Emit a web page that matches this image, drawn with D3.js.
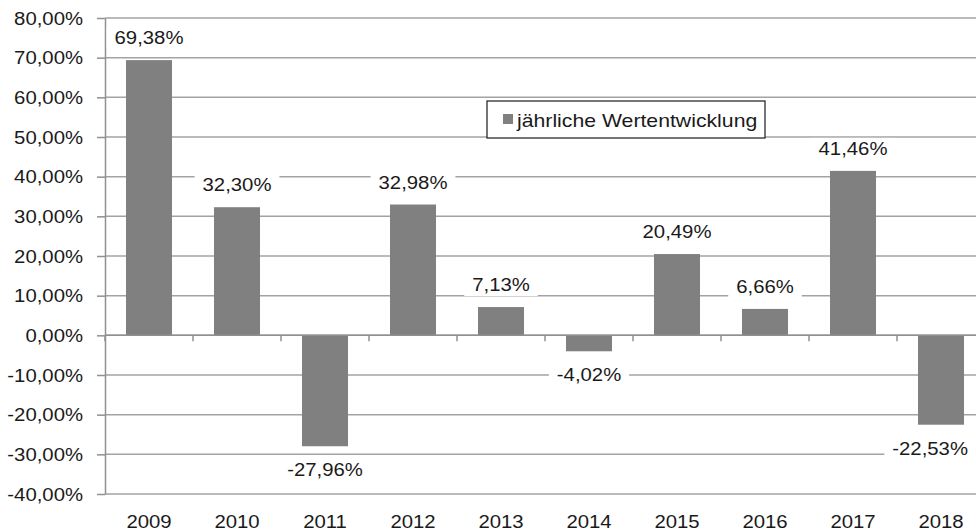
<!DOCTYPE html>
<html>
<head>
<meta charset="utf-8">
<script src="https://cdn.jsdelivr.net/npm/d3@7"></script>
<style>
  body { margin: 0; background: #fff; }
  svg { display: block; font-family: "Liberation Sans", Arial, sans-serif; }
</style>
</head>
<body>
<script>
// data
const years = ["2009", "2010", "2011", "2012", "2013", "2014", "2015", "2016", "2017", "2018"];
const values = [69.38, 32.30, -27.96, 32.98, 7.13, -4.02, 20.49, 6.66, 41.46, -22.53];
const yTicks = [-40, -30, -20, -10, 0, 10, 20, 30, 40, 50, 60, 70, 80];
const seriesName = "jährliche Wertentwicklung";

const width = 976, height = 531;
const margin = {top: 18, right: -9, bottom: 37, left: 105};
const sx = 1.13; // the picture is a bit stretched horizontally
const fontSize = 18;

const de = d3.formatLocale({decimal: ",", thousands: ".", grouping: [3], currency: ["", "€"], minus: "-"});
const pct = v => de.format(".2%")(v / 100);

const svg = d3.select("body").append("svg")
  .attr("width", width)
  .attr("height", height);

const x = d3.scaleBand()
  .domain(years)
  .range([margin.left, width - margin.right])
  .paddingInner(0.477)
  .paddingOuter(0.2385);

const y = d3.scaleLinear()
  .domain([-40, 80])
  .range([height - margin.bottom, margin.top]);

// gridlines
svg.append("g")
  .selectAll("line")
  .data(yTicks)
  .join("line")
  .attr("x1", margin.left)
  .attr("x2", width - margin.right)
  .attr("y1", d => y(d))
  .attr("y2", d => y(d))
  .attr("stroke", "#a3a3a3")
  .attr("stroke-width", 1.5);

// y axis
const yAxis = svg.append("g")
  .attr("transform", "translate(" + margin.left + ",0)")
  .call(d3.axisLeft(y).tickValues(yTicks).tickSize(8).tickSizeOuter(0).tickFormat(pct));
yAxis.select(".domain").attr("stroke", "#909090").attr("stroke-width", 1.5);
yAxis.selectAll(".tick line").attr("stroke", "#909090").attr("stroke-width", 1.5);
yAxis.selectAll(".tick text")
  .attr("x", -22 / sx)
  .attr("dy", "0.35em")
  .attr("transform", "scale(" + sx + ",1)")
  .attr("font-size", fontSize)
  .attr("font-family", "Liberation Sans, Arial, sans-serif")
  .attr("fill", "#1a1a1a");

// bars
svg.append("g")
  .selectAll("rect")
  .data(values)
  .join("rect")
  .attr("x", (d, i) => x(years[i]))
  .attr("width", x.bandwidth())
  .attr("y", d => y(Math.max(0, d)))
  .attr("height", d => Math.abs(y(d) - y(0)))
  .attr("fill", "#808080");

// zero axis with category ticks
const xAxis = svg.append("g")
  .attr("transform", "translate(0," + y(0) + ")");
xAxis.append("line")
  .attr("x1", margin.left)
  .attr("x2", width - margin.right)
  .attr("stroke", "#909090")
  .attr("stroke-width", 1.5);
xAxis.selectAll(".cat")
  .data(years)
  .join("line")
  .attr("class", "cat")
  .attr("x1", d => x(d) - x.step() * x.paddingInner() / 2)
  .attr("x2", d => x(d) - x.step() * x.paddingInner() / 2)
  .attr("y1", 0)
  .attr("y2", 6)
  .attr("stroke", "#909090")
  .attr("stroke-width", 1.5);

// year labels
svg.append("g")
  .selectAll("text")
  .data(years)
  .join("text")
  .attr("transform", d => "translate(" + (x(d) + x.bandwidth() / 2) + "," + (height - 3) + ") scale(" + sx + ",1)")
  .attr("text-anchor", "middle")
  .attr("font-size", fontSize)
  .attr("fill", "#1a1a1a")
  .text(d => d);

// value labels with white background, kept inside the picture
const labels = svg.append("g")
  .selectAll("g")
  .data(values)
  .join("g");
labels.append("text")
  .attr("text-anchor", "middle")
  .attr("font-size", fontSize)
  .attr("fill", "#1a1a1a")
  .text(d => pct(d));
labels.each(function(d, i) {
  const g = d3.select(this);
  const b = g.select("text").node().getBBox();
  g.insert("rect", "text")
    .attr("x", b.x - 7)
    .attr("y", b.y - 1)
    .attr("width", b.width + 14)
    .attr("height", b.height + 2)
    .attr("fill", "#fff");
  let cx = x(years[i]) + x.bandwidth() / 2;
  const half = b.width * sx / 2;
  if (cx + half > width - 8) cx = width - 8 - half;
  const by = d >= 0 ? y(d) - 16 : y(d) + 30;
  g.attr("transform", "translate(" + cx + "," + by + ") scale(" + sx + ",1)");
});

// legend
const legend = svg.append("g").attr("transform", "translate(487,101)");
legend.append("rect")
  .attr("width", 278)
  .attr("height", 37)
  .attr("fill", "#fff")
  .attr("stroke", "#1a1a1a")
  .attr("stroke-width", 1.2);
legend.append("rect")
  .attr("x", 16)
  .attr("y", 13)
  .attr("width", 10)
  .attr("height", 10)
  .attr("fill", "#808080");
legend.append("text")
  .attr("transform", "translate(30,26) scale(1.18,1)")
  .attr("font-size", fontSize)
  .attr("fill", "#1a1a1a")
  .text(seriesName);
</script>
</body>
</html>
